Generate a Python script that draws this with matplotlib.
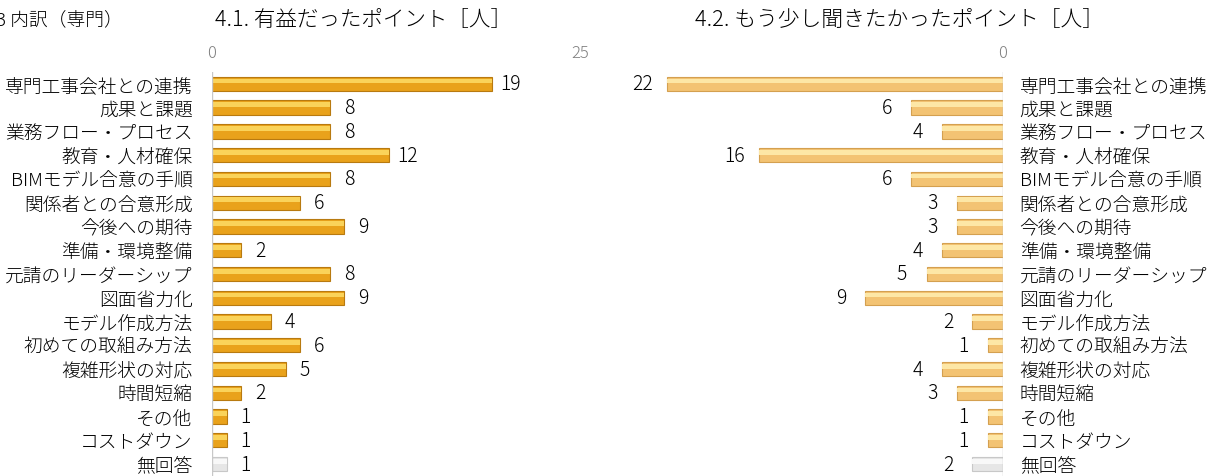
import matplotlib.pyplot as plt
import numpy as np

# カテゴリと人数
categories = ['専門工事会社との連携', '成果と課題', '業務フロー・プロセス', '教育・人材確保',
              'BIMモデル合意の手順', '関係者との合意形成', '今後への期待', '準備・環境整備',
              '元請のリーダーシップ', '図面省力化', 'モデル作成方法', '初めての取組み方法',
              '複雑形状の対応', '時間短縮', 'その他', 'コストダウン', '無回答']
useful = [19, 8, 8, 12, 8, 6, 9, 2, 8, 9, 4, 6, 5, 2, 1, 1, 1]
more = [22, 6, 4, 16, 6, 3, 3, 4, 5, 9, 2, 1, 4, 3, 1, 1, 2]

plt.rcParams['font.family'] = ['Noto Sans CJK JP', 'DejaVu Sans']
plt.rcParams['font.weight'] = 'light'

fig = plt.figure(figsize=(12.14, 4.77), dpi=100)
ax1 = fig.add_axes([212 / 1214, 0.0, 368 / 1214, 0.847])
ax2 = fig.add_axes([621 / 1214, 0.0, 382 / 1214, 0.847])

y = np.arange(len(categories))


def draw(ax, vals, base, light, dark):
    cols = [base] * (len(vals) - 1) + ['#E6E6E6']
    lcols = [light] * (len(vals) - 1) + ['#F8F8F8']
    dcols = [dark] * (len(vals) - 1) + ['#C8C8C8']
    ax.barh(y, vals, height=0.6, color=cols, edgecolor=dcols, linewidth=0.8)
    ax.barh(y - 0.12, vals, height=0.2, color=lcols, linewidth=0)
    ax.set_xlim(0, 25)
    ax.set_ylim(16.5, -0.5)
    for s in ['top', 'right', 'bottom', 'left']:
        ax.spines[s].set_visible(False)
    ax.set_yticks(y)
    ax.set_yticklabels(categories, fontsize=13.5)
    ax.tick_params(axis='y', length=0)
    ax.xaxis.tick_top()
    ax.tick_params(axis='x', length=0, labelsize=12, colors='#808080', pad=8)


# 左：有益だったポイント
draw(ax1, useful, '#E9A21B', '#FAD35A', '#B87A10')
ax1.axvline(0, color='#C8C8C8', lw=1)
ax1.set_xticks([0, 25])
ax1.tick_params(axis='y', pad=14)
for i, v in enumerate(useful):
    ax1.text(v + 1.3, i, str(v), va='center', ha='center', fontsize=14)

# 右：もう少し聞きたかったポイント
draw(ax2, more, '#F3C373', '#FDE7A6', '#D4A050')
ax2.invert_xaxis()
ax2.axvline(0, color='#C8C8C8', lw=1)
ax2.set_xticks([0])
ax2.yaxis.tick_right()
ax2.tick_params(axis='y', pad=12, length=0)
for lab in ax2.get_yticklabels():
    lab.set_ha('left')
for i, v in enumerate(more):
    ax2.text(v + 1.6, i, str(v), va='center', ha='center', fontsize=14)

fig.text(-4 / 1214, 1 - 20 / 477, '3 内訳（専門）', fontsize=13.5, va='center')
fig.text(215 / 1214, 1 - 20 / 477, '4.1. 有益だったポイント［人］', fontsize=15.5, va='center')
fig.text(695 / 1214, 1 - 20 / 477, '4.2. もう少し聞きたかったポイント［人］', fontsize=15.7, va='center')

plt.savefig('out.png', dpi=100)
